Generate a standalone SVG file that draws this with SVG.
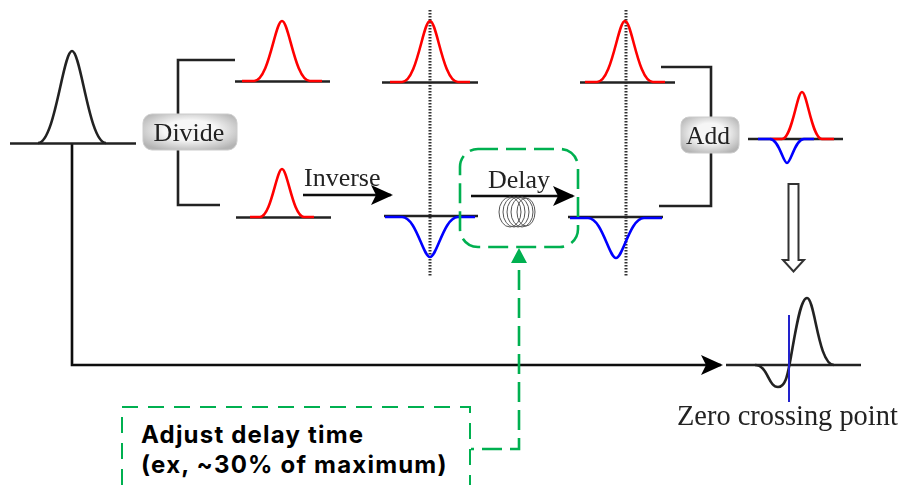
<svg xmlns="http://www.w3.org/2000/svg" width="902" height="485" viewBox="0 0 902 485">
<style>
.k{fill:none;stroke:#222;stroke-width:2.6}
.r{fill:none;stroke:#f00;stroke-width:2.6}
.b{fill:none;stroke:#00f;stroke-width:2.6}
.c{fill:none;stroke:#111;stroke-width:2.6}
.v{fill:none;stroke:#333;stroke-width:3;stroke-dasharray:1.5 1.5}
.g{fill:none;stroke:#00b050;stroke-width:2.6;stroke-dasharray:20 8}
.t{font-family:"Liberation Serif",serif;fill:#222}
.l{font-family:Inter,"Liberation Sans",sans-serif;font-weight:700;font-size:24px;letter-spacing:1.2px;fill:#000}
.btn{fill:url(#bg);stroke:#ccc;stroke-width:1}
.coil{fill:none;stroke:#555;stroke-width:1}
</style>
<defs>
<radialGradient id="bg" cx="50%" cy="45%" r="62%"><stop offset="0.45" stop-color="#f6f6f6"/><stop offset="1" stop-color="#b4b4b4"/></radialGradient>
<filter id="s" x="-5%" y="-5%" width="110%" height="110%"><feGaussianBlur stdDeviation="0.5"/></filter>
<marker id="ah" markerUnits="userSpaceOnUse" markerWidth="24" markerHeight="24" refX="20" refY="10" orient="auto"><path d="M0,0 L22,10 L0,20 L5,10Z" fill="#000"/></marker>
</defs>
<rect width="902" height="485" fill="#fff"/>
<g filter="url(#s)">
<g id="connectors">
<path class="k" d="M235,60H178V114M178,150V205H220"/>
<path class="k" d="M661,67H711V117M711,153V206H659"/>
<path class="c" d="M72,143V365H721" marker-end="url(#ah)"/>
<path class="c" d="M303,195H391" marker-end="url(#ah)"/>
<path class="c" d="M471,196H573" marker-end="url(#ah)"/>
<path class="v" d="M430,10V276"/>
<path class="v" d="M626,10V277"/>
<path d="M788.500,184H798.500V260H804L793.500,271.500L783,260H788.500Z" fill="#fff" stroke="#333" stroke-width="2"/>
</g>
<g id="input-pulse">
<path class="k" d="M10,143.500H136"/>
<path class="k" d="M38,143C55,143 63,51 72,51C81,51 89,143 106,143"/>
</g>
<g id="divide"><rect class="btn" x="143" y="114" width="94" height="36" rx="9"/><text class="t" x="189" y="141" font-size="26" text-anchor="middle">Divide</text></g>
<g id="pulse-upper-1">
<path class="k" d="M235,81.500H330"/>
<path class="r" d="M242,81H254C269,81 275,21 282,21C289,21 295,81 310,81H322"/>
</g>
<g id="pulse-lower-1">
<path class="k" d="M236,217.500H331"/>
<path class="r" d="M250,217H260C271,217 276.500,169 282,169C287.500,169 293,217 304,217H314"/>
</g>
<g id="pulse-upper-2">
<path class="k" d="M382,82.500H478"/>
<path class="r" d="M390,82H402C417,82 423,21 430,21C437,21 443,82 458,82H470"/>
</g>
<g id="pulse-upper-3">
<path class="k" d="M580,82.500H675"/>
<path class="r" d="M585,82H597C612,82 618,21 625,21C632,21 638,82 653,82H665"/>
</g>
<g id="pulse-inverted-1">
<path class="k" d="M384,216H478"/>
<path class="b" d="M385,217H402C416,217 423,257 430,257C437,257 444,217 458,217H475"/>
</g>
<g id="pulse-inverted-2">
<path class="k" d="M568,217H663"/>
<path class="b" d="M570,218H588C602,218 609,258 616,258C623,258 630,218 644,218H662"/>
</g>
<g id="inverse-label"><text class="t" x="304" y="186" font-size="26">Inverse</text></g>
<g id="delay">
<text class="t" x="488" y="188" font-size="26">Delay</text>
<ellipse class="coil" cx="510" cy="212" rx="11" ry="15"/><ellipse class="coil" cx="514" cy="212" rx="11" ry="15"/><ellipse class="coil" cx="518" cy="212" rx="11" ry="15"/><ellipse class="coil" cx="522" cy="212" rx="11" ry="15"/><ellipse class="coil" cx="526" cy="212" rx="9" ry="14"/>
</g>
<g id="add"><rect class="btn" x="681" y="117" width="58" height="36" rx="8"/><text class="t" x="708" y="144" font-size="25.500" text-anchor="middle">Add</text></g>
<g id="sum-pulse">
<path class="k" d="M748,139H843"/>
<path class="r" d="M770,139H782C792,139 797,92 802,92C807,92 812,139 822,139H834"/>
<path class="b" d="M758,139H770C779,139 783,163 787,163C791,163 795,139 804,139H814"/>
</g>
<g id="output-pulse">
<path class="k" d="M726,365H861"/>
<path class="k" d="M755,365C768,365 768,387 778,387C786,387 788,372 790,362C795,335 800,298 807,298C815,298 818,365 834,365"/>
<path d="M789,315V402" stroke="#22c" stroke-width="2" fill="none"/>
<text class="t" x="677" y="425" font-size="28.400">Zero crossing point</text>
</g>
</g>
<g id="green">
<rect class="g" x="460" y="149" width="118" height="98" rx="18"/>
<path d="M519,248L527,263H511Z" fill="#00b050"/>
<path class="g" d="M519,270V449H471"/>
</g>
<g id="note">
<path d="M122,485V407H470V485" fill="none" stroke="#00b050" stroke-width="2" stroke-dasharray="16 10"/>
<text class="l"><tspan x="141" y="443">Adjust delay time</tspan><tspan x="141" y="473">(ex, ~30% of maximum)</tspan></text>
</g>
</svg>
